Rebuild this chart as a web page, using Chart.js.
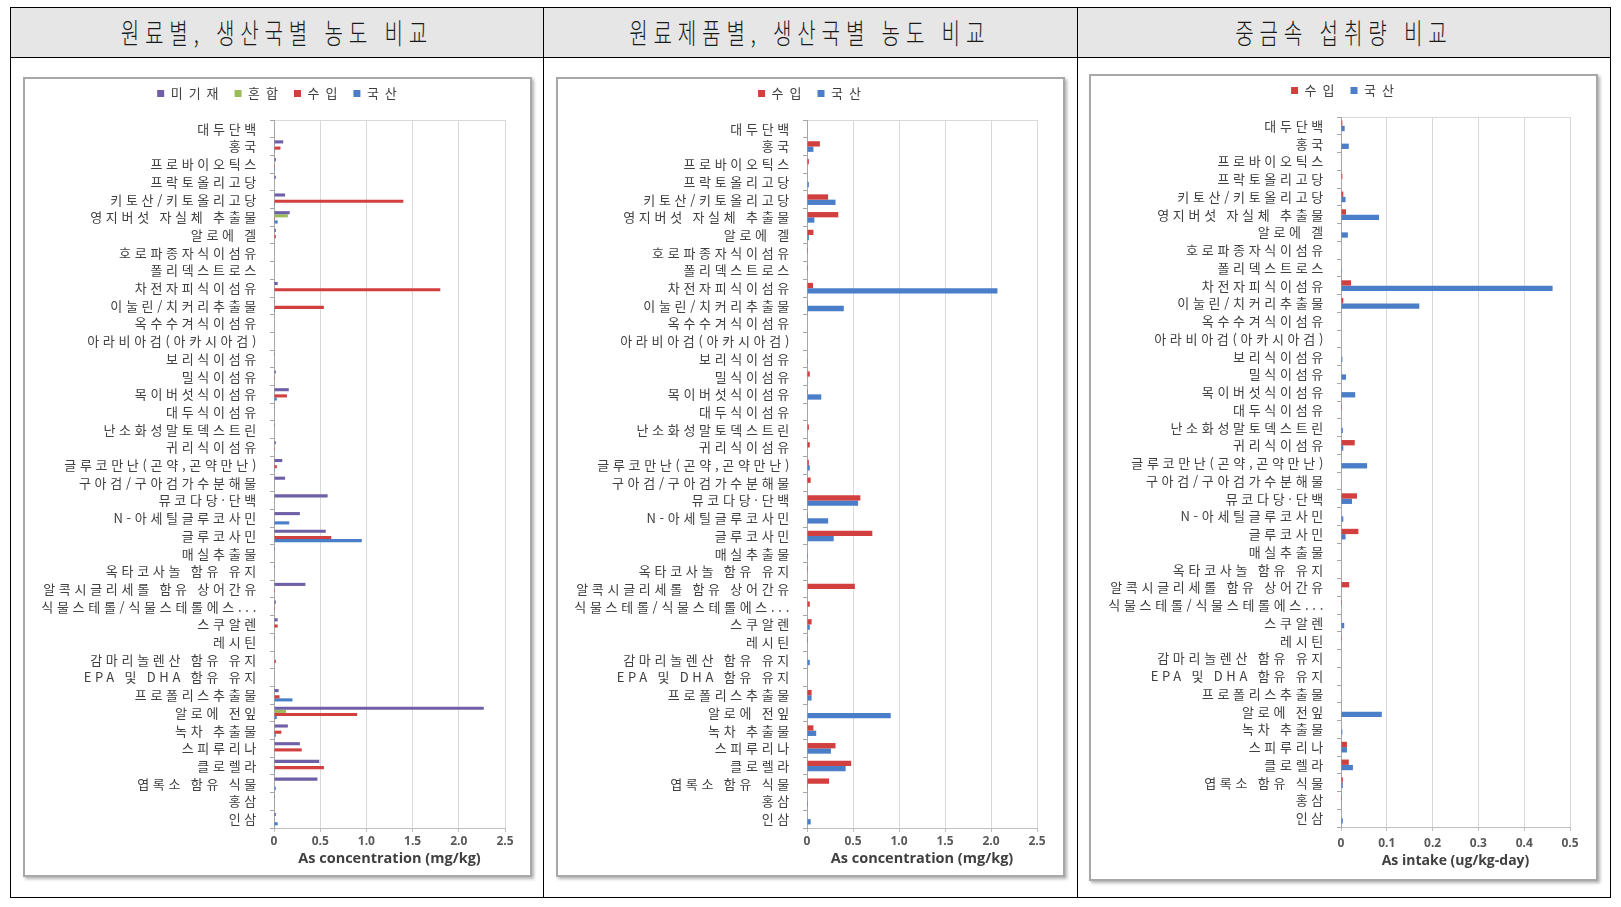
<!DOCTYPE html>
<html lang="ko">
<head>
<meta charset="utf-8">
<title>As 농도 및 섭취량 비교</title>
<script src="https://cdn.jsdelivr.net/npm/chart.js@4.4.0/dist/chart.umd.min.js"></script>
<style>
  body { margin: 0; background: #fff; width: 1621px; height: 907px; position: relative; overflow: hidden; font-family: "Noto Sans CJK KR", sans-serif; }
  .head { position: absolute; top: 7px; height: 50px; background: #e6e6e6; display: flex; align-items: center; justify-content: center; }
  .head span { display: inline-block; font-size: 28px; font-weight: 300; letter-spacing: 8px; transform: scaleX(0.72); color: #1a1a1a; white-space: nowrap; }
  .line { position: absolute; background: #000; }
  .box { position: absolute; box-sizing: border-box; border: 2px solid #a8a8a8; box-shadow: 2px 2px 3px rgba(0,0,0,0.3); background: #fff; }
  .box canvas { display: block; }
</style>
</head>
<body>
<div class="head" style="left:10px;width:533px"><span>원료별, 생산국별 농도 비교</span></div>
<div class="head" style="left:543px;width:534px"><span>원료제품별, 생산국별 농도 비교</span></div>
<div class="head" style="left:1077px;width:533px"><span>중금속 섭취량 비교</span></div>

<div class="line" style="left:10px;top:7px;width:1601px;height:1px"></div>
<div class="line" style="left:10px;top:57px;width:1601px;height:1px"></div>
<div class="line" style="left:10px;top:897px;width:1601px;height:1px"></div>
<div class="line" style="left:10px;top:7px;width:1px;height:891px"></div>
<div class="line" style="left:1610px;top:7px;width:1px;height:891px"></div>
<div class="line" style="left:543px;top:7px;width:1px;height:891px"></div>
<div class="line" style="left:1077px;top:7px;width:1px;height:891px"></div>

<div class="box" style="left:23px;top:77px;width:509px;height:800px"><canvas id="rawChart" width="505" height="796"></canvas></div>
<div class="box" style="left:556px;top:77px;width:509px;height:800px"><canvas id="prodChart" width="505" height="796"></canvas></div>
<div class="box" style="left:1089px;top:74px;width:509px;height:807px"><canvas id="intakeChart" width="505" height="803"></canvas></div>

<script>
const categories = [
    "대두단백", "홍국", "프로바이오틱스", "프락토올리고당", "키토산/키토올리고당",
    "영지버섯 자실체 추출물", "알로에 겔", "호로파종자식이섬유", "폴리덱스트로스", "차전자피식이섬유",
    "이눌린/치커리추출물", "옥수수겨식이섬유", "아라비아검(아카시아검)", "보리식이섬유", "밀식이섬유",
    "목이버섯식이섬유", "대두식이섬유", "난소화성말토덱스트린", "귀리식이섬유", "글루코만난(곤약,곤약만난)",
    "구아검/구아검가수분해물", "뮤코다당·단백", "N-아세틸글루코사민", "글루코사민", "매실추출물",
    "옥타코사놀 함유 유지", "알콕시글리세롤 함유 상어간유", "식물스테롤/식물스테롤에스...", "스쿠알렌", "레시틴",
    "감마리놀렌산 함유 유지", "EPA 및 DHA 함유 유지", "프로폴리스추출물", "알로에 전잎", "녹차 추출물",
    "스피루리나", "클로렐라", "엽록소 함유 식물", "홍삼", "인삼"
]

// 원료별 (mg/kg)
const rawUnlisted = [0.005, 0.10, 0.02, 0.02, 0.12, 0.17, 0.02, 0.005, 0.005, 0.04,
    0.01, 0, 0, 0.01, 0.02, 0.16, 0.003, 0.01, 0.02, 0.09,
    0.12, 0.58, 0.28, 0.56, 0.01, 0.01, 0.34, 0.02, 0.04, 0.01,
    0.005, 0.005, 0.05, 2.27, 0.15, 0.28, 0.49, 0.47, 0.01, 0.02]
const rawMixed = [0, 0, 0, 0, 0, 0.15, 0, 0, 0, 0,
    0, 0, 0, 0, 0, 0, 0, 0, 0, 0,
    0, 0, 0, 0, 0, 0, 0, 0, 0, 0,
    0, 0, 0, 0.13, 0, 0, 0, 0, 0, 0]
const rawImport = [0, 0.07, 0.01, 0, 1.40, 0.01, 0.02, 0, 0, 1.80,
    0.54, 0, 0, 0, 0.01, 0.14, 0, 0, 0.01, 0.03,
    0.005, 0, 0, 0.62, 0, 0, 0.01, 0.01, 0.04, 0,
    0.02, 0, 0.06, 0.90, 0.08, 0.30, 0.54, 0, 0, 0]
const rawDomestic = [0.003, 0.01, 0.01, 0, 0.01, 0.04, 0, 0, 0, 0,
    0.01, 0, 0, 0.005, 0, 0.03, 0, 0, 0, 0.01,
    0, 0, 0.165, 0.95, 0, 0, 0, 0, 0, 0.005,
    0, 0, 0.20, 0.03, 0.02, 0, 0.01, 0.02, 0.005, 0.04]

// 원료제품별 (mg/kg)
const prodImport = [0, 0.14, 0.02, 0, 0.23, 0.34, 0.07, 0.01, 0.01, 0.065,
    0.01, 0, 0, 0, 0.03, 0.01, 0.005, 0.02, 0.03, 0.02,
    0.04, 0.58, 0.01, 0.71, 0, 0.01, 0.52, 0.03, 0.05, 0.01,
    0, 0.005, 0.05, 0, 0.07, 0.31, 0.48, 0.24, 0, 0]
const prodDomestic = [0.005, 0.07, 0, 0.02, 0.31, 0.08, 0.02, 0, 0, 2.07,
    0.40, 0, 0, 0.01, 0, 0.155, 0, 0, 0, 0.03,
    0, 0.555, 0.23, 0.29, 0.01, 0, 0, 0, 0.03, 0,
    0.03, 0, 0.05, 0.91, 0.10, 0.26, 0.42, 0.01, 0.01, 0.04]

// 섭취량 (ug/kg-day)
const intakeImport = [0.003, 0, 0, 0.003, 0.005, 0.011, 0, 0, 0, 0.022,
    0.005, 0, 0, 0, 0, 0, 0.002, 0, 0.03, 0,
    0, 0.035, 0, 0.038, 0, 0, 0.018, 0.002, 0, 0.002,
    0, 0, 0, 0, 0, 0.013, 0.017, 0.004, 0.002, 0]
const intakeDomestic = [0.008, 0.017, 0, 0, 0.01, 0.083, 0.015, 0, 0.002, 0.462,
    0.171, 0, 0, 0.003, 0.011, 0.031, 0, 0.004, 0.005, 0.057,
    0, 0.024, 0.005, 0.01, 0, 0, 0, 0, 0.007, 0,
    0, 0, 0, 0.089, 0.003, 0.013, 0.026, 0.004, 0, 0.004]

const purple = '#6f5fa6'
const green = '#9bbb59'
const red = '#d23f3f'
const blue = '#4a7ec8'

// canvas letter spacing for the korean labels (legend + category axis)
const spacing = {
    id: 'spacing',
    beforeUpdate: (chart) => {
        const lg = chart.legend
        if (lg && !lg._spaced) {
            const fit = lg.fit, draw = lg.draw
            lg.fit = function () { chart.ctx.save(); chart.ctx.letterSpacing = '6px'; fit.call(this); chart.ctx.restore() }
            lg.draw = function () {
                chart.ctx.save()
                chart.ctx.letterSpacing = '6px'
                chart.ctx.translate(15, -2) // legend is centred on the whole box, not on the padded area
                draw.call(this)
                chart.ctx.restore()
            }
            lg._spaced = true
        }
    },
    afterLayout: (chart) => {
        const y = chart.scales.y
        if (y && !y._spaced) {
            const drawLabels = y.drawLabels
            y.drawLabels = function (area) { chart.ctx.save(); chart.ctx.letterSpacing = '3.7px'; drawLabels.call(this, area); chart.ctx.restore() }
            y._spaced = true
        }
    }
}

const makeChart = (id, sets, xMax, xStep, xTitle, opt) => {
    new Chart(document.getElementById(id), {
        type: 'bar',
        data: {
            labels: categories,
            datasets: sets.map(s => ({
                label: s.label,
                data: s.data,
                backgroundColor: s.color,
                borderWidth: 0,
                xAxisID: 'x',
                categoryPercentage: opt.catPct,
                barPercentage: 1
            }))
        },
        options: {
            indexAxis: 'y',
            responsive: false,
            animation: false,
            layout: { padding: { top: 0, right: opt.right, bottom: 0, left: 0 } },
            plugins: {
                legend: {
                    labels: { boxWidth: 7, boxHeight: 7, padding: 10, color: '#404040', font: { family: 'Noto Sans CJK KR', size: 13 } }
                },
                tooltip: { enabled: false }
            },
            scales: {
                x: {
                    type: 'linear',
                    position: 'bottom',
                    min: 0,
                    max: xMax,
                    ticks: { stepSize: xStep, padding: opt.tickPad, color: '#595959', font: { family: 'Open Sans', size: 12, weight: 'bold' } },
                    grid: { color: '#d9d9d9', tickColor: '#bfbfbf', tickLength: 4 },
                    border: { color: '#bfbfbf' },
                    title: { display: true, text: xTitle, color: '#404040', font: { family: 'Open Sans', size: opt.titleSize, weight: 'bold' }, padding: { top: 0, bottom: opt.titlePad } },
                    afterFit: (s) => { s.height = opt.bottom }
                },
                x2: {
                    type: 'linear',
                    axis: 'x',
                    position: 'top',
                    ticks: { display: false },
                    grid: { display: false },
                    border: { color: '#d9d9d9' },
                    afterFit: (s) => { s.height = 8 }
                },
                y: {
                    grid: { drawOnChartArea: false, tickLength: 4, color: '#a6a6a6', offset: true },
                    border: { color: '#a6a6a6' },
                    ticks: { autoSkip: false, padding: 10, color: '#404040', font: { family: 'Noto Sans CJK KR', size: 13 } },
                    afterFit: (s) => { s.width = opt.left }
                }
            }
        },
        plugins: [spacing]
    })
}

makeChart('rawChart', [
    { label: '미기재', data: rawUnlisted, color: purple },
    { label: '혼합', data: rawMixed, color: green },
    { label: '수입', data: rawImport, color: red },
    { label: '국산', data: rawDomestic, color: blue }
], 2.5, 0.5, 'As concentration (mg/kg)', { catPct: 0.7, left: 249, right: 25, bottom: 47, tickPad: 2, titlePad: 7, titleSize: 14.5 })

makeChart('prodChart', [
    { label: '수입', data: prodImport, color: red },
    { label: '국산', data: prodDomestic, color: blue }
], 2.5, 0.5, 'As concentration (mg/kg)', { catPct: 0.6, left: 249, right: 26, bottom: 47, tickPad: 2, titlePad: 7, titleSize: 14.5 })

makeChart('intakeChart', [
    { label: '수입', data: intakeImport, color: red },
    { label: '국산', data: intakeDomestic, color: blue }
], 0.5, 0.1, 'As intake (ug/kg-day)', { catPct: 0.6, left: 250, right: 26, bottom: 52, tickPad: 5, titlePad: 10, titleSize: 14 })
</script>
</body>
</html>
